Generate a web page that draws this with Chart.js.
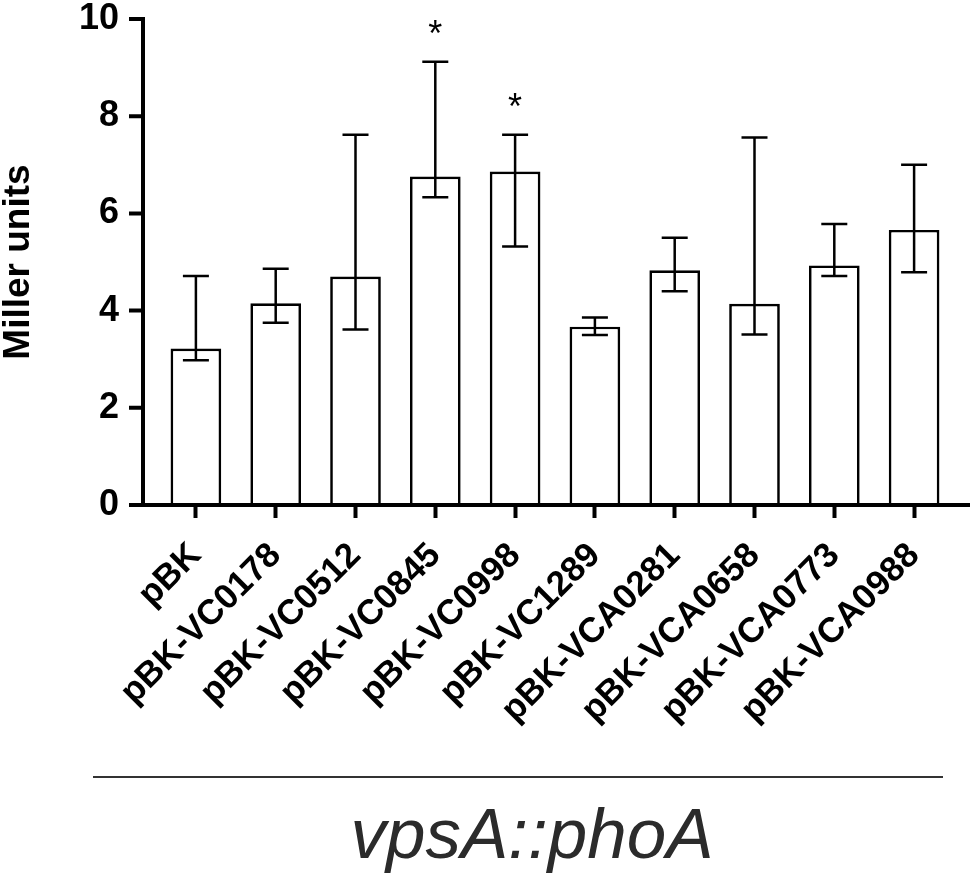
<!DOCTYPE html>
<html>
<head>
<meta charset="utf-8">
<script src="https://cdn.jsdelivr.net/npm/chart.js@4.4.1/dist/chart.umd.min.js"></script>
<style>
  html, body { margin: 0; padding: 0; background: #fff; }
  #wrap { position: relative; width: 975px; height: 876px; }
</style>
</head>
<body>
<div id="wrap"><canvas id="chart"></canvas></div>
<script>
// values
const labels = ['pBK', 'pBK-VC0178', 'pBK-VC0512', 'pBK-VC0845', 'pBK-VC0998',
  'pBK-VC1289', 'pBK-VCA0281', 'pBK-VCA0658', 'pBK-VCA0773', 'pBK-VCA0988'];
const means   = [3.22, 4.15, 4.70, 6.76, 6.86, 3.67, 4.83, 4.14, 4.93, 5.66];
const errHigh = [4.71, 4.86, 7.62, 9.12, 7.62, 3.86, 5.50, 7.56, 5.78, 7.00];
const errLow  = [2.98, 3.75, 3.61, 6.33, 5.32, 3.50, 4.40, 3.51, 4.71, 4.79];
const marks   = ['', '', '', '*', '*', '', '', '', '', ''];
const yTicks  = [0, 2, 4, 6, 8, 10];
const groupLabel = 'vpsA::phoA';

const FONT = '"Liberation Sans", Arial, sans-serif';

/* ---------- axes, error bars, asterisks, group label ---------- */
const decorations = {
  id: 'decorations',
  afterDatasetsDraw(chart) {
    const { ctx, chartArea, scales: { x, y } } = chart;
    const axisX = chartArea.left - 13;
    const y0 = y.getPixelForValue(0);
    ctx.save();

    // error bars
    ctx.strokeStyle = '#000';
    ctx.lineWidth = 2.5;
    ctx.beginPath();
    means.forEach((m, i) => {
      const px = x.getPixelForValue(i);
      const hi = y.getPixelForValue(errHigh[i]);
      const lo = y.getPixelForValue(errLow[i]);
      ctx.moveTo(px, hi); ctx.lineTo(px, lo);
      ctx.moveTo(px - 13, hi); ctx.lineTo(px + 13, hi);
      ctx.moveTo(px - 13, lo); ctx.lineTo(px + 13, lo);
    });
    ctx.stroke();

    // asterisks
    ctx.fillStyle = '#000';
    ctx.font = '36px ' + FONT;
    ctx.textAlign = 'center';
    ctx.textBaseline = 'alphabetic';
    marks.forEach((s, i) => {
      if (!s) return;
      ctx.fillText(s, x.getPixelForValue(i), y.getPixelForValue(errHigh[i]) - 16);
    });

    // axis lines
    ctx.lineWidth = 4;
    ctx.lineJoin = 'miter';
    ctx.beginPath();
    ctx.moveTo(axisX, y.getPixelForValue(10) - 2);
    ctx.lineTo(axisX, y0);
    ctx.lineTo(chartArea.right + 16, y0);
    ctx.stroke();
    ctx.beginPath();
    yTicks.forEach(v => {
      const py = y.getPixelForValue(v);
      ctx.moveTo(axisX - 14, py); ctx.lineTo(axisX, py);
    });
    ctx.stroke();

    // group bracket + label
    ctx.strokeStyle = '#333';
    ctx.lineWidth = 1.8;
    ctx.beginPath();
    ctx.moveTo(93, 777); ctx.lineTo(943, 777);
    ctx.stroke();
    ctx.fillStyle = '#2b2b2b';
    ctx.font = 'italic 71px ' + FONT;
    ctx.fillText(groupLabel, 532, 858);
    ctx.restore();
  }
};

new Chart(document.getElementById('chart'), {
  type: 'bar',
  data: {
    labels: labels,
    datasets: [{
      data: means,
      backgroundColor: '#fff',
      borderColor: '#000',
      borderWidth: 2.7,
      barPercentage: 0.635,
      categoryPercentage: 1
    }]
  },
  options: {
    responsive: true,
    maintainAspectRatio: false,
    animation: false,
    devicePixelRatio: 1,
    layout: { padding: { top: 19, right: 21, left: 0, bottom: 0 } },
    plugins: { legend: { display: false }, tooltip: { enabled: false } },
    scales: {
      x: {
        offset: true,
        border: { display: false },
        grid: {
          offset: false,
          drawOnChartArea: false,
          drawTicks: true,
          tickLength: 13,
          tickWidth: 4,
          tickColor: '#000'
        },
        ticks: {
          minRotation: 45,
          maxRotation: 45,
          autoSkip: false,
          padding: 17,
          color: '#000',
          font: { family: FONT, size: 35, weight: 'bold' }
        },
        afterFit(scale) { scale.height = 371; }
      },
      y: {
        min: 0,
        max: 10,
        border: { display: false },
        // invisible tick marks only push the labels away from the axis
        grid: {
          drawOnChartArea: false,
          drawTicks: true,
          tickLength: 37,
          tickColor: 'rgba(0,0,0,0)'
        },
        ticks: {
          stepSize: 2,
          padding: 0,
          color: '#000',
          font: { family: FONT, size: 36, weight: 'bold', lineHeight: 1.05 }
        },
        title: {
          display: true,
          text: 'Miller units',
          color: '#000',
          padding: 0,
          font: { family: FONT, size: 37, weight: 'bold', lineHeight: 1 }
        },
        afterFit(scale) { scale.width = 156; }
      }
    }
  },
  plugins: [decorations]
});
</script>
</body>
</html>
